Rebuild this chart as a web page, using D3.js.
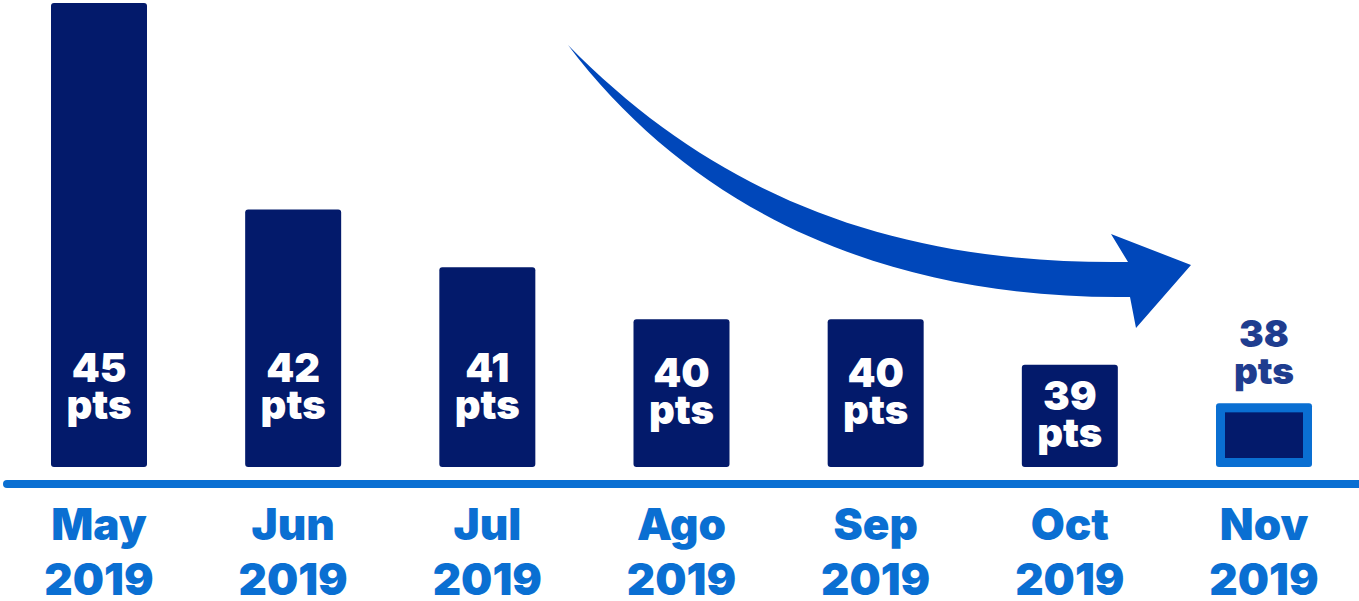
<!DOCTYPE html>
<html>
<head>
<meta charset="utf-8">
<script src="https://cdn.jsdelivr.net/npm/d3@7"></script>
<style>
  body { margin: 0; background: #fff; }
  svg { display: block; font-family: Inter, "Noto Sans", sans-serif; }
</style>
</head>
<body>
<div id="chart"></div>
<script>
const months = ["May", "Jun", "Jul", "Ago", "Sep", "Oct", "Nov"]
const years = ["2019", "2019", "2019", "2019", "2019", "2019", "2019"]
const points = [45, 42, 41, 40, 40, 39, 38]
const unit = "pts"
const highlightMonth = "Nov"

const dataset = months.map((m, i) => ({
  month: m,
  year: years[i],
  value: points[i],
}))

const monthAccessor = d => d.month
const valueAccessor = d => d.value

let dimensions = {
  width: 1359,
  height: 601,
  barBottom: 467,
  barWidth: 96,
  baseValue: 35,
}

const colors = {
  bar: "#031a6b",
  accent: "#0a6fd2",
  arrow: "#0047ba",
  outsideLabel: "#1f3d8f",
}

const wrapper = d3.select("#chart")
  .append("svg")
    .attr("width", dimensions.width)
    .attr("height", dimensions.height)

const xScale = d3.scalePoint()
  .domain(months)
  .range([99, 1264])

// bars in the picture grow faster than linear above the base value
const hScale = d3.scalePow()
  .exponent(1.65)
  .domain([0, 45 - dimensions.baseValue])
  .range([0, 464])

const barHeight = d => hScale(valueAccessor(d) - dimensions.baseValue)
const barTop = d => dimensions.barBottom - barHeight(d)

const bars = wrapper.append("g")

bars.selectAll("rect.bar")
  .data(dataset)
  .join("rect")
    .attr("class", "bar")
    .attr("x", d => xScale(monthAccessor(d)) - dimensions.barWidth / 2)
    .attr("y", barTop)
    .attr("width", dimensions.barWidth)
    .attr("height", barHeight)
    .attr("rx", 3)
    .attr("fill", d => monthAccessor(d) === highlightMonth ? colors.accent : colors.bar)

// inner fill of the highlighted bar
bars.selectAll("rect.inner")
  .data(dataset.filter(d => monthAccessor(d) === highlightMonth))
  .join("rect")
    .attr("class", "inner")
    .attr("x", d => xScale(monthAccessor(d)) - dimensions.barWidth / 2 + 9)
    .attr("y", d => barTop(d) + 9)
    .attr("width", dimensions.barWidth - 18)
    .attr("height", d => barHeight(d) - 18)
    .attr("fill", colors.bar)

// value labels
const labels = wrapper.append("g")
  .attr("text-anchor", "middle")
  .attr("font-weight", 900)

const labelCenter = d => {
  if (monthAccessor(d) === highlightMonth) return barTop(d) - 50
  return Math.max(barTop(d) + barHeight(d) / 2, 388)
}

const labelGroups = labels.selectAll("g")
  .data(dataset)
  .join("g")
    .attr("transform", d => `translate(${xScale(monthAccessor(d))}, ${labelCenter(d)})`)
    .attr("fill", d => monthAccessor(d) === highlightMonth ? colors.outsideLabel : "#fff")
    .attr("font-size", d => monthAccessor(d) === highlightMonth ? 37 : 40)

labelGroups.append("text")
  .attr("y", -6)
  .text(valueAccessor)

labelGroups.append("text")
  .attr("y", 31)
  .text(unit)

// baseline
wrapper.append("line")
  .attr("x1", 7)
  .attr("x2", dimensions.width + 10)
  .attr("y1", 484)
  .attr("y2", 484)
  .attr("stroke", colors.accent)
  .attr("stroke-width", 8)
  .attr("stroke-linecap", "round")

// x axis labels
const xLabels = wrapper.append("g")
  .attr("text-anchor", "middle")
  .attr("font-weight", 900)
  .attr("font-size", 44)
  .attr("fill", colors.accent)

xLabels.selectAll("text.month")
  .data(dataset)
  .join("text")
    .attr("class", "month")
    .attr("x", d => xScale(monthAccessor(d)))
    .attr("y", 540)
    .text(monthAccessor)

xLabels.selectAll("text.year")
  .data(dataset)
  .join("text")
    .attr("class", "year")
    .attr("x", d => xScale(monthAccessor(d)))
    .attr("y", 595)
    .text(d => d.year)

// trend arrow annotation
const arrow = d3.path()
arrow.moveTo(568, 45)
arrow.bezierCurveTo(720, 200, 900, 265, 1128, 262)
arrow.lineTo(1111, 234)
arrow.lineTo(1191, 265)
arrow.lineTo(1136, 328)
arrow.lineTo(1130, 297)
arrow.bezierCurveTo(900, 300, 700, 220, 568, 45)
arrow.closePath()

wrapper.append("path")
  .attr("d", arrow.toString())
  .attr("fill", colors.arrow)
</script>
</body>
</html>
